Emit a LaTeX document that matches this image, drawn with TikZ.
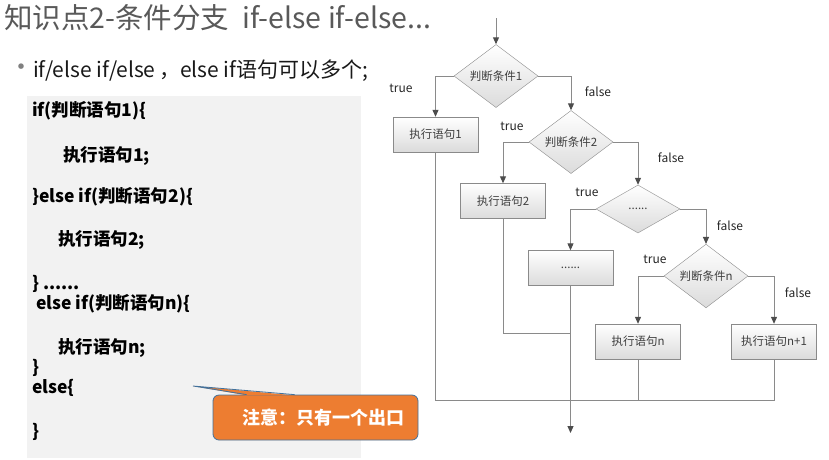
\documentclass[tikz,border=0pt]{standalone}
\usepackage{fontspec}
\setmainfont{Noto Sans CJK SC}
\usetikzlibrary{shapes.geometric,arrows.meta,calc}
\definecolor{titlegray}{HTML}{595959}
\definecolor{codebg}{HTML}{F2F2F2}
\definecolor{noteorange}{HTML}{ED7D31}
\definecolor{noteblue}{HTML}{41719C}
\definecolor{flowgray}{HTML}{8A8A8A}
\definecolor{flowtext}{HTML}{3F3F3F}

\tikzset{
  cond/.style={diamond, draw=flowgray, top color=white, bottom color=gray!28,
    inner sep=0pt, minimum width=84pt, minimum height=48pt, text=flowtext,
    font=\fontsize{11.5}{12}\selectfont},
  stmt/.style={rectangle, draw=flowgray, top color=white, bottom color=gray!28,
    minimum width=85pt, minimum height=35pt, text=flowtext,
    font=\fontsize{11.5}{12}\selectfont},
  flow/.style={draw=flowgray, line width=1pt},
  branch/.style={flow, -{Triangle[length=7pt,width=6pt,color=black!70]}},
  tf/.style={font=\fontsize{12}{12}\selectfont, text=black!85, inner sep=0pt},
  codeline/.style={anchor=west, font=\bfseries\fontsize{17.5}{17.5}\selectfont, inner sep=0pt},
}

\begin{document}
\begin{tikzpicture}[x=1pt,y=-1pt]
  \useasboundingbox (0,0) rectangle (829,459);
  % heading
  \node[anchor=west, inner sep=0pt, text=titlegray, font=\fontsize{28.5}{28.5}\selectfont] (title) at (4,18) {知识点2-条件分支\ \ if-else if-else...};
  \node[inner sep=0pt, text=gray, font=\fontsize{26}{26}\selectfont] (dot) at (22,70) {•};
  \node[anchor=west, inner sep=0pt, text=black!90, font=\fontsize{21}{21}\selectfont] (sub) at (33,71) {if/else if/else\,，else if语句可以多个;};
  % code
  \fill[codebg] (27,96) rectangle (361,458);
  \node[codeline] (c1) at (32,111) {if(判断语句1)\{};
  \node[codeline] (c2) at (63,156) {执行语句1;};
  \node[codeline] (c3) at (32,197) {\}else if(判断语句2)\{};
  \node[codeline] (c4) at (58,240) {执行语句2;};
  \node[codeline] (c5) at (32,284) {\} ......};
  \node[codeline] (c6) at (36,304) {else if(判断语句n)\{};
  \node[codeline] (c7) at (58,348) {执行语句n;};
  \node[codeline] (c8) at (32,368) {\}};
  \node[codeline] (c9) at (32,388) {else\{};
  \node[codeline] (c10) at (32,432) {\}};
  % callout
  \node[draw=noteblue, fill=noteorange, rounded corners=6pt, line width=0.8pt,
    minimum width=205pt, minimum height=45pt, text=white,
    font=\bfseries\fontsize{18}{18}\selectfont] (note) at (315.5,417.5) {\hspace*{16pt}注意：只有一个出口};
  \coordinate (tip) at (193,386);
  \fill[noteorange] ($(note.north west)+(34,0.8)$) -- (tip) -- ($(note.north west)+(82,0.8)$) -- cycle;
  \draw[noteblue, line width=0.8pt] ($(note.north west)+(34,0)$) -- (tip) -- ($(note.north west)+(82,0)$);
  % flowchart
  \coordinate (entry) at (496,18);
  \node[cond] (d1) at (496,76) {判断条件1};
  \node[stmt] (b1) at (435.5,134.5) {执行语句1};
  \node[cond] (d2) at (571,142) {判断条件2};
  \node[stmt] (b2) at (503,201) {执行语句2};
  \node[cond] (d3) at (638,209) {......};
  \node[stmt] (b3) at (570.5,268) {......};
  \node[cond] (dn) at (706,276) {判断条件n};
  \node[stmt] (bn) at (638,341.5) {执行语句n};
  \node[stmt] (bn1) at (774,341.5) {执行语句n+1};
  \coordinate (j2) at (570.5,333);
  \coordinate (join) at (570.5,400);
  \coordinate (exit) at (570.5,433);
  \draw[branch] (entry) -- (d1.north);
  \draw[branch] (d1.west) -| (b1.north);
  \draw[branch] (d1.east) -| (d2.north);
  \draw[branch] (d2.west) -| (b2.north);
  \draw[branch] (d2.east) -| (d3.north);
  \draw[branch] (d3.west) -| (b3.north);
  \draw[branch] (d3.east) -| (dn.north);
  \draw[branch] (dn.west) -| (bn.north);
  \draw[branch] (dn.east) -| (bn1.north);
  \draw[flow] (b1.south) |- (join);
  \draw[flow] (b2.south) |- (j2);
  \draw[flow] (bn.south) |- (join);
  \draw[flow] (bn1.south) |- (join);
  \draw[branch] (b3.south) -- (exit);
  % branch labels
  \node[tf] (t1) at (401,88) {true};
  \node[tf] (f1) at (598,92) {false};
  \node[tf] (t2) at (512,126) {true};
  \node[tf] (f2) at (671,158) {false};
  \node[tf] (t3) at (587,192) {true};
  \node[tf] (f3) at (730,226) {false};
  \node[tf] (tn) at (655,259) {true};
  \node[tf] (fn) at (798,293) {false};
\end{tikzpicture}
\end{document}
